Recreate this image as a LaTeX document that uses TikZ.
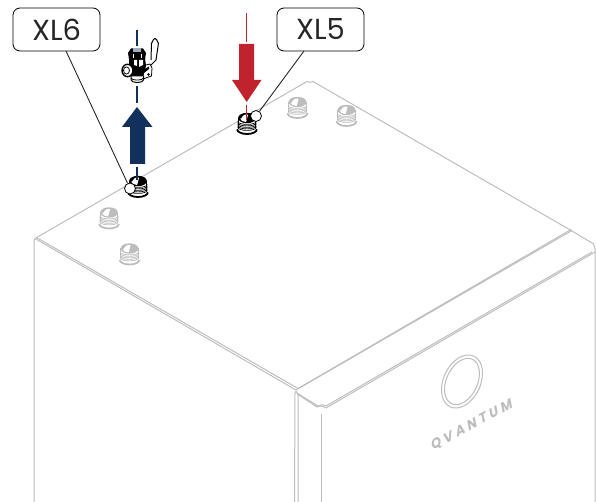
\documentclass[tikz,border=0pt]{standalone}
\usepackage{fontspec}
\setmainfont{Poppins}
\newfontfamily\logofont{Poppins}[LetterSpace=26]
\usetikzlibrary{calc}
\definecolor{cab}{HTML}{BDBDBD}
\definecolor{navy}{HTML}{12305B}
\definecolor{crim}{HTML}{C1232E}
\newcommand{\fitcol}{black}
\tikzset{
  cabline/.style={draw=cab,line width=1pt,line join=round},
  tag/.style={draw=black,rounded corners=7pt,line width=0.8pt,fill=white,minimum width=87pt,minimum height=43pt,inner sep=0pt,font=\fontsize{29}{29}\selectfont,text=black!85},
  dot/.style={circle,draw=black,fill=white,line width=0.8pt,minimum size=11pt,inner sep=0pt},
  leader/.style={draw=black!85,line width=0.9pt},
  flow/.style={line width=1.3pt},
  fit/.pic={
    % body
    \fill[white] (-8.5,-6) rectangle (8.5,8);
    \draw[\fitcol,line width=1.3pt] (-8.8,-6) -- (-8.8,4) (8.8,-6) -- (8.8,4);
    % threads
    \foreach \yy in {-2.6,-1.1,0.4,1.9,3.4}{\draw[\fitcol,line width=0.7pt] (-9.3,\yy) arc[start angle=180,end angle=0,x radius=9.3,y radius=3];}
    % flange
    \draw[\fitcol,line width=1.8pt] (-9.8,5.4) arc[start angle=180,end angle=0,x radius=9.8,y radius=4.6];
    \draw[\fitcol,line width=0.8pt] (-9.8,5.2) -- (-9.8,6) (9.8,5.2) -- (9.8,6);
    % top rim
    \fill[\fitcol] (0,-6) ellipse[x radius=8.9,y radius=5.2];
    \fill[white] (-6.8,-5.5) to[out=-80,in=180] (-2,-9.3) -- (1,-9.3) -- (0,-5) -- (-1,-2) -- (-5,-3) -- cycle;
  }
}
\begin{document}
\begin{tikzpicture}[x=1pt,y=-1pt]
\useasboundingbox (0,0) rectangle (597,502);
\coordinate (xa) at (137,30); \coordinate (xb) at (137,46);
\coordinate (xc) at (137,86); \coordinate (xd) at (137,103);
\coordinate (xe) at (137,167); \coordinate (xf) at (137,180);
\coordinate (ra) at (246.7,13); \coordinate (rb) at (246.7,42);
\coordinate (rc) at (246.7,105); \coordinate (rd) at (246.7,120);
% cabinet
\draw[cabline] (34,502) -- (34,241) -- (35,238.5) -- (307,81.5) to[out=-30,in=210] (313,81.5) -- (572,231) -- (592,243) to[out=30,in=-90] (595,249) -- (595,502);
\draw[cabline] (35,238.5) -- (296,390) -- (572,230.5);
\draw[cabline] (36.5,237.5) -- (298,388.5);
\draw[cabline] (298,388.5) -- (571,229.5);
\draw[cabline] (296,391) -- (295,393) -- (294.5,502);
\draw[cabline] (296,391) -- (298,395) -- (298,502);
\draw[cabline] (297,393) -- (318,406) to[out=30,in=150] (326,406) -- (592,252);
\draw[cabline] (298,394.5) -- (317,407) to[out=30,in=150] (326,408) -- (595,252);
\draw[cabline] (321,414) -- (321,502);
% logo
\begin{scope}[shift={(462,381.5)},rotate=65]
\draw[cabline] (0,0) ellipse[x radius=28,y radius=18.5];
\draw[cabline] (0,0) ellipse[x radius=24.5,y radius=15.5];
\end{scope}
\node[rotate=28.5,xslant=0.3,inner sep=0pt,text=cab] (logo) at (472,425) {\logofont\bfseries\fontsize{13.5}{14}\selectfont QVANTUM};
% gray fittings
\renewcommand{\fitcol}{cab}
\pic at (297.5,108) {fit};
\pic at (346.5,116) {fit};
\pic at (109,218.5) {fit};
\pic at (129.5,254.5) {fit};
% black fittings
\renewcommand{\fitcol}{black}
\pic at (138,187) {fit};
\pic at (247,124) {fit};
% flow lines
\draw[navy,flow] (xa) -- (xb);
\draw[navy,flow] (xc) -- (xd);
\draw[navy,flow] (xe) -- (xf);
\draw[crim,flow] (ra) -- (rb);
\draw[crim,flow] (rc) -- (rd);
\fill[navy] (137,107) -- (152.5,127) -- (145,127) -- (145,164) -- (130,164) -- (130,127) -- (122,127) -- cycle;
\fill[crim] (239,44) -- (254,44) -- (254,80) -- (261.5,80) -- (246.7,102) -- (232,80) -- (239,80) -- cycle;
% valve
\begin{scope}[line width=0.8pt,line join=round]
% handle
\draw[fill=white,line width=1pt] (150,66) -- (156,60) -- (158.5,43) to[out=-90,in=0] (155,38.5) to[out=180,in=-90] (151.5,43) -- (151,60);
% right arm
\draw[fill=white] (142,66) -- (150,64) -- (152,68) -- (151.5,76) -- (143,79) -- cycle;
\fill[black] (143,70) -- (149,66.5) -- (149,69) -- (144,73) -- cycle;
\fill[black] (148.5,74.5) circle[radius=1.4];
% body
\fill[black] (129,58) -- (145,58) -- (146,66) -- (143,77) -- (131,77) -- (129,70) -- cycle;
\fill[white] (134,60) -- (137,60) -- (137,66) -- (134,65) -- cycle;
\fill[white] (139,60) -- (143,60) -- (143,65) -- (139,67) -- cycle;
% bottom
\draw[fill=white,line width=1pt] (131,76) -- (143.5,76) -- (143.5,80) arc[start angle=0,end angle=180,x radius=6.2,y radius=2.4] -- cycle;
\draw (131,78) arc[start angle=180,end angle=0,x radius=6.2,y radius=2];
% nut
\fill[black] (128,53) -- (131,48.5) -- (143,48.5) -- (146,53) -- (145,59) -- (129,59) -- cycle;
\fill[white!60!navy] (133,48.5) rectangle (141,52);
\draw[white,line width=0.6pt] (133,54) -- (133,58.5) (141,54) -- (141,58.5);
% side port
\draw[fill=white,line width=1.4pt] (127.5,70.5) ellipse[x radius=5.5,y radius=6.2];
\draw[fill=white,line width=0.8pt] (126.5,70.5) ellipse[x radius=3,y radius=3.6];
\end{scope}
% labels
\node[tag] (xl6) at (56.5,29.5) {XL6};
\node[tag] (xl5) at (320.5,29.5) {XL5};
\node[dot] (p6) at (130,188.5) {};
\node[dot] (p5) at (256,116) {};
\draw[leader] (66,51) -- (p6);
\draw[leader] (304,51) -- (p5);
\end{tikzpicture}
\end{document}
